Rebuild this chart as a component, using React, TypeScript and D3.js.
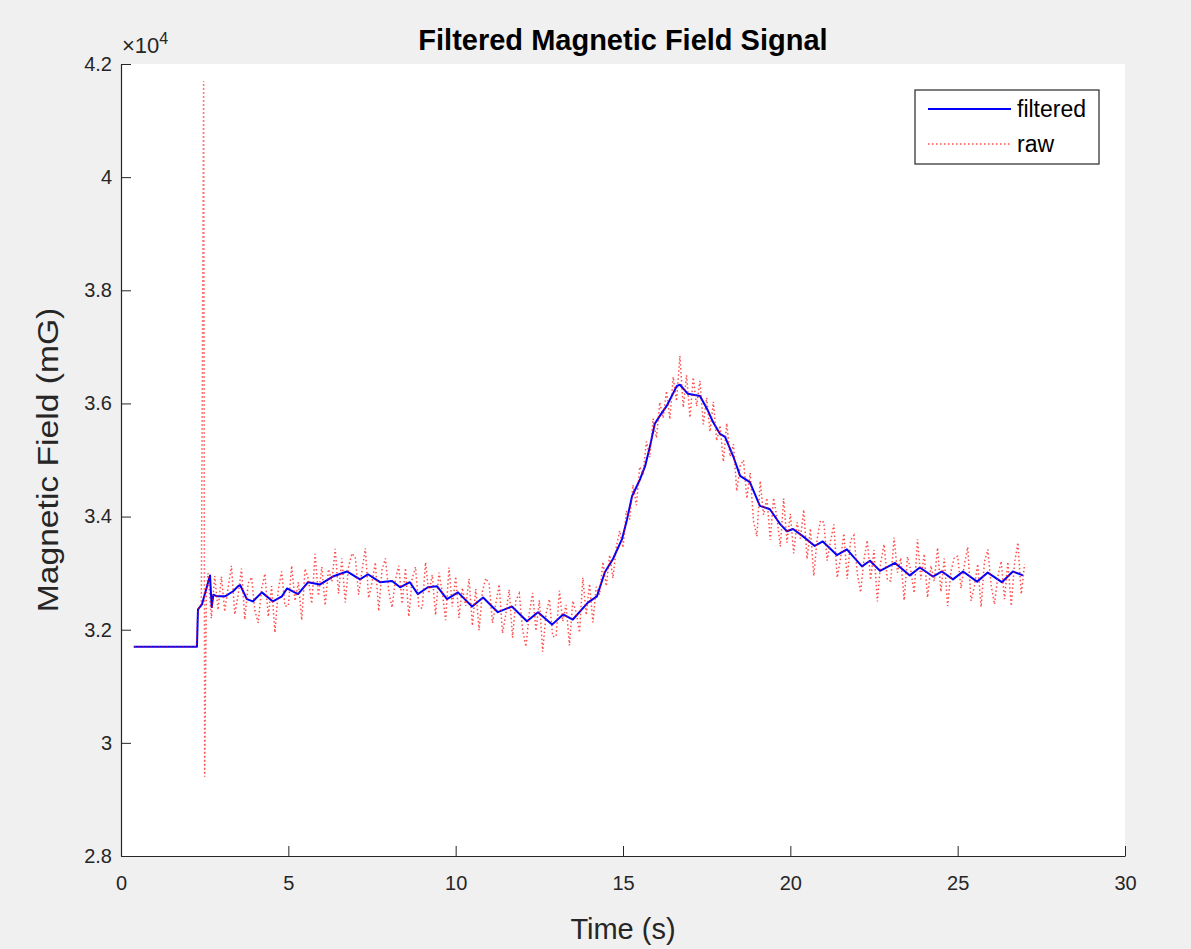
import React, { useEffect, useRef } from 'react'
import { select, scaleLinear, line, axisLeft, axisBottom } from 'd3'

const filteredTime = [
  0.38, 2.27, 2.30, 2.42, 2.66, 2.71, 2.76, 2.87, 3.11, 3.35, 3.50, 3.56, 3.76, 3.94, 4.21, 4.54,
  4.81, 4.96, 5.29, 5.59, 5.95, 6.33, 6.75, 7.14, 7.38, 7.74, 8.10, 8.34, 8.63, 8.87, 9.17, 9.44,
  9.74, 10.07, 10.49, 10.82, 11.26, 11.68, 12.13, 12.46, 12.88, 13.21, 13.50, 13.95, 14.22, 14.46,
  14.70, 14.97, 15.12, 15.27, 15.51, 15.66, 15.81, 15.95, 16.10, 16.31, 16.61, 16.70, 16.94, 17.30,
  17.54, 17.69, 17.90, 18.05, 18.29, 18.50, 18.79, 19.09, 19.39, 19.69, 19.90, 20.08, 20.38, 20.73,
  20.97, 21.39, 21.69, 22.14, 22.38, 22.68, 23.13, 23.57, 23.87, 24.26, 24.53, 24.86, 25.16, 25.58,
  25.90, 26.32, 26.65, 26.95
]
const filteredValue = [
  3.170, 3.170, 3.236, 3.245, 3.296, 3.240, 3.262, 3.259, 3.259, 3.268, 3.277, 3.279, 3.254, 3.250, 3.266, 3.250,
  3.259, 3.273, 3.263, 3.284, 3.280, 3.294, 3.303, 3.289, 3.298, 3.284, 3.286, 3.275, 3.284, 3.263, 3.275, 3.277,
  3.254, 3.266, 3.241, 3.257, 3.231, 3.241, 3.215, 3.231, 3.209, 3.227, 3.218, 3.248, 3.259, 3.302,
  3.325, 3.360, 3.395, 3.436, 3.466, 3.489, 3.525, 3.564, 3.578, 3.596, 3.631, 3.633, 3.617, 3.613,
  3.587, 3.567, 3.546, 3.541, 3.507, 3.472, 3.461, 3.419, 3.413, 3.387, 3.374, 3.378, 3.365, 3.348,
  3.356, 3.332, 3.342, 3.312, 3.322, 3.304, 3.318, 3.296, 3.310, 3.294, 3.303, 3.289, 3.303, 3.285,
  3.301, 3.284, 3.303, 3.296
]

// raw signal: the flat start and the spike, then samples every 0.1 s from 2.6 s
const rawLeadTime = [0.4, 0.8, 1.2, 1.6, 2.0, 2.25, 2.3, 2.4, 2.47, 2.5, 2.55]
const rawLeadValue = [3.170, 3.170, 3.170, 3.170, 3.170, 3.170, 3.236, 3.245, 4.170, 2.940, 3.262]
const rawStart = 2.6
const rawStep = 0.1
const rawValue = [
  3.300, 3.220, 3.295, 3.235,
  3.294, 3.232, 3.274, 3.313, 3.227, 3.262, 3.308, 3.218, 3.282, 3.293,
  3.234, 3.212, 3.272, 3.299, 3.223, 3.277, 3.195, 3.271, 3.303, 3.242,
  3.242, 3.313, 3.251, 3.284, 3.217, 3.308, 3.289, 3.246, 3.334, 3.260,
  3.311, 3.243, 3.307, 3.285, 3.343, 3.264, 3.326, 3.248, 3.311, 3.335,
  3.328, 3.262, 3.304, 3.344, 3.256, 3.283, 3.319, 3.233, 3.306, 3.326,
  3.268, 3.239, 3.288, 3.313, 3.246, 3.309, 3.223, 3.290, 3.311, 3.240,
  3.238, 3.319, 3.264, 3.297, 3.226, 3.301, 3.267, 3.217, 3.310, 3.241,
  3.294, 3.221, 3.274, 3.242, 3.290, 3.207, 3.272, 3.199, 3.268, 3.291,
  3.281, 3.212, 3.246, 3.280, 3.194, 3.228, 3.271, 3.186, 3.252, 3.264,
  3.200, 3.170, 3.230, 3.265, 3.198, 3.252, 3.161, 3.228, 3.254, 3.188,
  3.188, 3.269, 3.215, 3.244, 3.172, 3.251, 3.231, 3.195, 3.292, 3.226,
  3.281, 3.213, 3.276, 3.262, 3.320, 3.277, 3.332, 3.291, 3.346, 3.375,
  3.345, 3.410, 3.395, 3.456, 3.420, 3.488, 3.474, 3.533, 3.505, 3.573,
  3.539, 3.602, 3.574, 3.622, 3.572, 3.647, 3.604, 3.684, 3.593, 3.650,
  3.575, 3.646, 3.595, 3.640, 3.563, 3.610, 3.550, 3.603, 3.534, 3.561,
  3.497, 3.565, 3.506, 3.528, 3.445, 3.489, 3.500, 3.432, 3.477, 3.392,
  3.365, 3.463, 3.403, 3.433, 3.359, 3.433, 3.398, 3.347, 3.432, 3.354,
  3.405, 3.335, 3.390, 3.361, 3.412, 3.325, 3.379, 3.295, 3.360, 3.393,
  3.390, 3.322, 3.356, 3.386, 3.292, 3.326, 3.370, 3.290, 3.358, 3.367,
  3.300, 3.266, 3.324, 3.358, 3.288, 3.341, 3.250, 3.319, 3.351, 3.288,
  3.286, 3.363, 3.301, 3.327, 3.252, 3.329, 3.304, 3.265, 3.360, 3.289,
  3.334, 3.257, 3.313, 3.286, 3.345, 3.267, 3.326, 3.242, 3.303, 3.328,
  3.330, 3.273, 3.315, 3.346, 3.251, 3.277, 3.316, 3.240, 3.320, 3.342,
  3.279, 3.245, 3.294, 3.321, 3.254, 3.320, 3.242, 3.318, 3.354, 3.263,
  3.316
]

const xTicks = [0, 5, 10, 15, 20, 25, 30]
const yTicks = [2.8, 3, 3.2, 3.4, 3.6, 3.8, 4, 4.2]
const seriesNames = ['filtered', 'raw']

const W = 1191
const H = 949
const margin = { top: 64, right: 66, bottom: 93, left: 121 }
const FONT = "'Liberation Sans', Arial, Helvetica, sans-serif"
const INK = '#262626'

function App() {
  const svgRef = useRef<SVGSVGElement>(null)

  useEffect(() => {
    const svg = select(svgRef.current)
    svg.selectAll('*').remove()

    const x = scaleLinear().domain([0, 30]).range([margin.left, W - margin.right])
    const y = scaleLinear().domain([2.8, 4.2]).range([H - margin.bottom, margin.top])

    svg.append('rect').attr('width', W).attr('height', H).attr('fill', '#f0f0f0')
    svg.append('rect')
      .attr('x', margin.left).attr('y', margin.top)
      .attr('width', W - margin.left - margin.right)
      .attr('height', H - margin.top - margin.bottom)
      .attr('fill', '#ffffff')

    const filtered = filteredTime.map((t, i) => [t, filteredValue[i]] as [number, number])
    const raw = rawLeadTime.map((t, i) => [t, rawLeadValue[i]] as [number, number])
      .concat(rawValue.map((v, i) => [rawStart + i * rawStep, v] as [number, number]))

    const path = line<[number, number]>().x(d => x(d[0])).y(d => y(d[1]))

    svg.append('path')
      .attr('d', path(filtered))
      .attr('fill', 'none')
      .attr('stroke', '#0000ff')
      .attr('stroke-width', 2)
      .attr('stroke-linejoin', 'round')

    svg.append('path')
      .attr('d', path(raw))
      .attr('fill', 'none')
      .attr('stroke', '#ff0000')
      .attr('stroke-opacity', 0.7)
      .attr('stroke-width', 1.5)
      .attr('stroke-dasharray', '1.5,2.5')

    // axes, ticks pointing inward like matlab
    const yAxis = svg.append('g')
      .attr('transform', `translate(${margin.left},0)`)
      .call(axisLeft(y).tickValues(yTicks).tickSizeInner(-10).tickSizeOuter(0).tickPadding(9).tickFormat(d => String(d)))
    const xAxis = svg.append('g')
      .attr('transform', `translate(0,${H - margin.bottom})`)
      .call(axisBottom(x).tickValues(xTicks).tickSizeInner(-10).tickSizeOuter(0).tickPadding(20).tickFormat(d => String(d)))

    for (const ax of [xAxis, yAxis]) {
      ax.select('.domain').attr('stroke', INK).attr('stroke-width', 1.2)
      ax.selectAll('line').attr('stroke', INK)
      ax.selectAll('text').attr('fill', INK).style('font-size', '20px').style('font-family', FONT)
    }

    // exponent label
    const expo = svg.append('text')
      .attr('x', margin.left + 1).attr('y', 53)
      .attr('fill', INK).style('font-family', FONT).style('font-size', '22px')
    expo.append('tspan').text('\u00d710')
    expo.append('tspan').attr('dy', -9).style('font-size', '16px').text('4')

    svg.append('text')
      .attr('x', (margin.left + W - margin.right) / 2).attr('y', 50)
      .attr('text-anchor', 'middle')
      .attr('fill', '#000')
      .style('font-family', FONT).style('font-size', '29px').style('font-weight', 'bold')
      .text('Filtered Magnetic Field Signal')

    svg.append('text')
      .attr('x', (margin.left + W - margin.right) / 2).attr('y', 939)
      .attr('text-anchor', 'middle')
      .attr('fill', INK)
      .style('font-family', FONT).style('font-size', '29px')
      .text('Time (s)')

    svg.append('text')
      .attr('transform', `translate(58,${(margin.top + H - margin.bottom) / 2}) rotate(-90) scale(1.16,1)`)
      .attr('text-anchor', 'middle')
      .attr('fill', INK)
      .style('font-family', FONT).style('font-size', '29px')
      .text('Magnetic Field (mG)')

    // legend
    const lg = svg.append('g').attr('transform', 'translate(915,90)')
    lg.append('rect').attr('width', 184).attr('height', 74)
      .attr('fill', '#fff').attr('stroke', INK).attr('stroke-width', 1.2)
    seriesNames.forEach((name, i) => {
      const ly = 19 + i * 35
      lg.append('line')
        .attr('x1', 13).attr('x2', 96).attr('y1', ly).attr('y2', ly)
        .attr('stroke', i === 0 ? '#0000ff' : '#ff0000')
        .attr('stroke-width', i === 0 ? 2 : 1.5)
        .attr('stroke-opacity', i === 0 ? 1 : 0.7)
        .attr('stroke-dasharray', i === 0 ? null : '1.5,2.5')
      lg.append('text')
        .attr('x', 102).attr('y', ly + 8)
        .attr('fill', '#000')
        .style('font-family', FONT).style('font-size', '23px')
        .text(name)
    })
  }, [])

  return (
    <div style={{ position: 'absolute', left: 0, top: 0 }}>
      <svg ref={svgRef} width={W} height={H} style={{ display: 'block' }}></svg>
    </div>
  )
}

export default App
